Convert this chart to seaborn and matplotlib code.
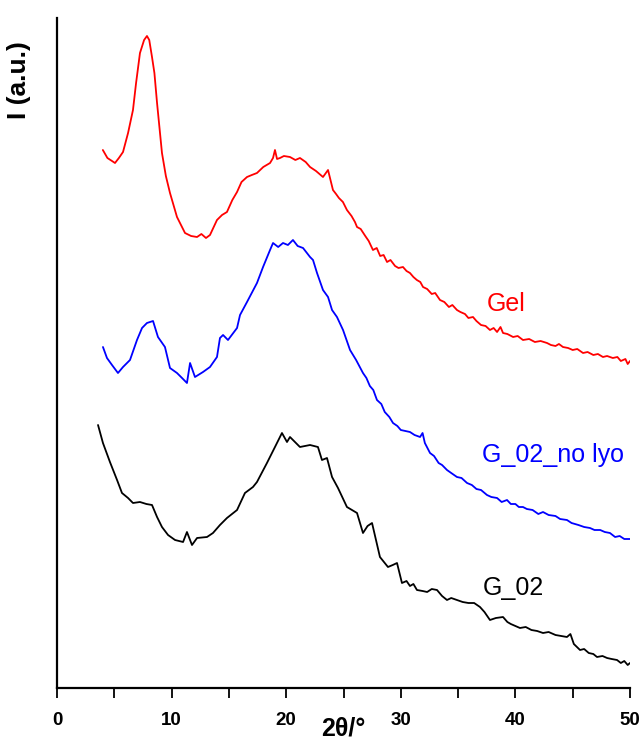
import matplotlib
matplotlib.use("Agg")
import matplotlib.pyplot as plt
import seaborn as sns
import pandas as pd
from matplotlib.ticker import MultipleLocator

sns.set_style("white")
plt.rcParams['font.family'] = ['Liberation Sans', 'DejaVu Sans']
plt.rcParams['text.color'] = 'black'
plt.rcParams['axes.labelcolor'] = 'black'
plt.rcParams['xtick.color'] = 'black'
plt.rcParams['ytick.color'] = 'black'

# 2theta (deg) and intensity (a.u.)
gel_x = [4.0, 4.4, 4.8, 5.06, 5.4, 5.76, 6.2, 6.63, 6.9, 7.24, 7.6, 7.85, 8.05, 8.29, 8.5, 8.73, 9.16, 9.5,
         9.86, 10.47, 11.17, 11.7, 12.22, 12.6, 13.0, 13.35, 13.96, 14.4, 14.83, 15.3, 15.71, 16.1, 16.58, 17.0,
         17.45, 18.0, 18.59, 18.85, 19.02, 19.2, 19.46, 19.8, 20.33, 20.8, 21.2, 21.7, 22.08, 22.6, 23.21, 23.65,
         24.08, 24.35, 24.6, 24.95, 25.3, 25.7, 26.0, 26.18, 26.5, 26.9, 27.2, 27.57, 27.9, 28.2, 28.5, 28.8,
         29.1, 29.5, 29.8, 30.19, 30.5, 30.8, 31.1, 31.4, 31.7, 31.94, 32.3, 32.7, 33.0, 33.42, 33.8, 34.2,
         34.5, 34.9, 35.2, 35.6, 35.9, 36.3, 36.6, 37.0, 37.4, 37.78, 38.1, 38.4, 38.7, 38.92, 39.3, 39.8,
         40.2, 40.66, 41.2, 41.7, 42.2, 42.76, 43.1, 43.5, 43.8, 44.15, 44.6, 45.0, 45.4, 45.9, 46.3, 46.8,
         47.2, 47.64, 48.0, 48.5, 48.9, 49.2, 49.6, 49.8, 50.0]
gel_y = [538, 530, 527, 525, 530, 536, 555, 578, 605, 635, 648, 652, 648, 631, 615, 585, 535, 512,
         495, 471, 455, 452, 451, 454, 450, 453, 468, 473, 476, 488, 496, 506, 511, 513,
         515, 521, 525, 530, 538, 529, 530, 532, 531, 528, 530, 526, 521, 517, 511, 518,
         498, 494, 490, 486, 478, 472, 466, 461, 459, 452, 447, 438, 440, 432, 433, 426,
         428, 422, 420, 421, 417, 415, 411, 408, 406, 401, 399, 394, 395, 388, 386, 381,
         383, 378, 376, 374, 370, 371, 367, 363, 362, 358, 360, 356, 361, 355, 354, 351,
         352, 348, 349, 346, 347, 345, 343, 342, 344, 341, 340, 338, 339, 335, 336, 333,
         334, 331, 332, 330, 331, 327, 329, 324, 327]

nolyo_x = [4.01, 4.36, 4.8, 5.32, 5.76, 6.37, 6.98, 7.42, 7.85, 8.38, 8.81, 9.42, 9.86, 10.47, 10.91,
           11.34, 11.61, 12.04, 12.74, 13.35, 13.96, 14.22, 14.49, 14.92, 15.71, 15.97, 16.58, 17.45,
           17.98, 18.59, 18.85, 19.3, 19.72, 20.15, 20.59, 21.0, 21.47, 22.08, 22.34, 22.69, 23.21,
           23.65, 24.0, 24.43, 24.96, 25.57, 26.1, 26.7, 27.0, 27.3, 27.6, 27.92, 28.3, 28.6, 29.0,
           29.32, 29.7, 30.0, 30.4, 30.8, 31.2, 31.68, 31.9, 32.1, 32.55, 32.9, 33.3, 33.6, 34.03,
           34.4, 34.9, 35.3, 35.78, 36.2, 36.6, 37.0, 37.52, 37.9, 38.4, 38.8, 39.27, 39.6, 40.0,
           40.3, 40.66, 41.0, 41.5, 42.0, 42.41, 42.9, 43.5, 43.9, 44.5, 44.9, 45.5, 46.0, 46.51,
           46.9, 47.4, 47.8, 48.25, 48.7, 49.1, 49.5, 50.0]
nolyo_y = [341, 330, 323, 315, 321, 328, 348, 360, 365, 367, 351, 341, 320, 315, 310,
           305, 325, 311, 316, 321, 331, 350, 353, 348, 360, 373, 386, 405,
           421, 438, 445, 441, 445, 443, 448, 442, 440, 431, 428, 415, 398,
           391, 378, 371, 358, 338, 328, 315, 310, 302, 298, 288, 284, 276, 271,
           265, 262, 258, 257, 256, 253, 251, 255, 245, 235, 232, 225, 223, 218,
           215, 211, 210, 205, 203, 199, 198, 193, 191, 190, 186, 188, 184, 184,
           181, 181, 179, 178, 174, 176, 173, 172, 169, 168, 165, 163, 161, 160,
           158, 158, 156, 155, 151, 152, 149, 149]

g02_x = [3.58, 4.01, 4.62, 5.24, 5.67, 6.2, 6.63, 7.24, 7.8, 8.29, 8.73, 9.16, 9.69, 10.3, 11.0, 11.34,
         11.78, 12.22, 13.09, 13.61, 14.22, 14.83, 15.71, 16.4, 17.1, 17.45, 18.32, 19.02, 19.63, 20.07,
         20.33, 21.2, 22.08, 22.77, 23.12, 23.56, 24.0, 24.52, 25.3, 26.18, 26.7, 27.1, 27.49, 28.18,
         28.88, 29.3, 29.67, 30.1, 30.5, 30.8, 31.1, 31.41, 31.9, 32.3, 32.7, 33.16, 33.6, 34.03, 34.4,
         34.9, 35.4, 35.9, 36.4, 36.91, 37.3, 37.78, 38.3, 38.92, 39.3, 39.6, 40.0, 40.4, 40.9, 41.4,
         41.9, 42.41, 42.9, 43.5, 44.0, 44.5, 44.8, 45.1, 45.64, 46.0, 46.4, 46.8, 47.12, 47.6, 48.0,
         48.4, 48.87, 49.2, 49.5, 49.8, 50.0]
g02_y = [263, 245, 226, 208, 195, 190, 185, 186, 184, 183, 171, 161, 153, 148, 146, 156,
         143, 150, 151, 155, 163, 170, 178, 195, 201, 206, 225, 241, 255, 246,
         251, 241, 243, 241, 228, 230, 211, 200, 181, 175, 155, 162, 165, 131,
         121, 123, 125, 105, 107, 102, 104, 98, 97, 96, 99, 98, 92, 88, 90,
         88, 86, 85, 85, 81, 76, 68, 70, 71, 66, 64, 62, 60, 61, 58,
         57, 55, 56, 53, 52, 51, 54, 44, 38, 39, 35, 34, 31, 32, 30,
         29, 28, 25, 27, 23, 25]

series_names = ["Gel", "G_02_no lyo", "G_02"]
series_colors = ["#ff0000", "#0000ff", "#000000"]

frames = []
for name, xs, ys in zip(series_names, [gel_x, nolyo_x, g02_x], [gel_y, nolyo_y, g02_y]):
    frames.append(pd.DataFrame({"two_theta": xs, "I": ys, "sample": name}))
df = pd.concat(frames, ignore_index=True)

fig = plt.figure(figsize=(6.4, 7.4), dpi=100)
ax = fig.add_axes([57 / 640, 1 - 688 / 740, (630 - 57) / 640, (688 - 18) / 740])

sns.lineplot(data=df, x="two_theta", y="I", hue="sample", palette=dict(zip(series_names, series_colors)),
             hue_order=series_names, estimator=None, sort=False, linewidth=1.3, legend=False, ax=ax)

ax.set_xlim(0, 50)
ax.set_ylim(0, 670)

for s in ["top", "right"]:
    ax.spines[s].set_visible(False)
for s in ["left", "bottom"]:
    ax.spines[s].set_linewidth(1.6)
    ax.spines[s].set_color("black")

ax.xaxis.set_major_locator(MultipleLocator(10))
ax.xaxis.set_minor_locator(MultipleLocator(5))
ax.tick_params(axis="x", which="both", direction="out", length=7.5, width=1.3, color="black",
               bottom=True, pad=10, labelcolor="black")
ax.tick_params(axis="x", which="major", labelsize=13.5)
ax.set_xticklabels([f"{t:g}" for t in ax.get_xticks()], fontweight="bold", color="black")
ax.set_yticks([])

ax.set_xlabel("2θ/°", fontsize=18, fontweight="bold", labelpad=-9, color="black")
ax.set_ylabel("I (a.u.)", fontsize=19, fontweight="bold", color="black")
ax.yaxis.set_label_coords(-0.045, 0.907)

label_pos = [(39.2, 384), (43.3, 233), (39.8, 100)]
for name, col, (lx, ly) in zip(series_names, series_colors, label_pos):
    ax.text(lx, ly, name, color=col, fontsize=18, ha="center", va="center")

fig.savefig("out.png", dpi=100)
